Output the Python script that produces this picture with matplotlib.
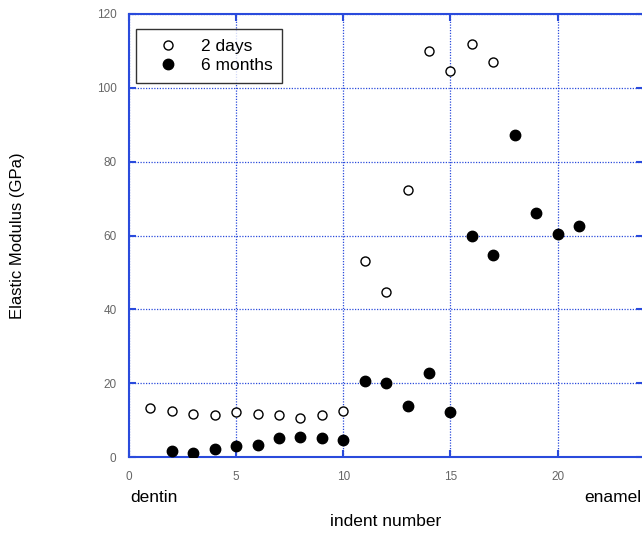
import matplotlib
matplotlib.use("Agg")
import matplotlib.pyplot as plt

plt.rcParams['font.family'] = ['Liberation Sans', 'DejaVu Sans']

x_2days = [1, 2, 3, 4, 5, 6, 7, 8, 9, 10, 11, 12, 13, 14, 15, 16, 17]
y_2days = [13.3, 12.5, 11.7, 11.5, 12.1, 11.7, 11.5, 10.6, 11.5, 12.5,
           53.1, 44.7, 72.4, 110.0, 104.5, 112.0, 106.9]
x_6months = [2, 3, 4, 5, 6, 7, 8, 9, 10, 11, 12, 13, 14, 15, 16, 17, 18, 19, 20, 21]
y_6months = [1.5, 1.2, 2.3, 3.1, 3.2, 5.1, 5.4, 5.1, 4.6, 20.6, 20.0, 13.7,
             22.8, 12.1, 59.9, 54.7, 87.3, 66.2, 60.3, 62.6]
x_ticks = [0, 5, 10, 15, 20]
y_ticks = [0, 20, 40, 60, 80, 100, 120]

blue = '#2a4bdc'

fig = plt.figure(figsize=(6.42, 5.33), dpi=100)
ax = fig.add_axes([129/642, 1-457/533, 1-129/642 + 0.002, (457-14)/533])

ax.plot(x_2days, y_2days, linestyle='none', marker='o', markersize=6.5,
        markerfacecolor='white', markeredgecolor='black', markeredgewidth=1.0,
        label='2 days', zorder=3)
ax.plot(x_6months, y_6months, linestyle='none', marker='o', markersize=7.5,
        markerfacecolor='black', markeredgecolor='black',
        label='6 months', zorder=3)

ax.set_xlim(0, 24)
ax.set_ylim(0, 120)
ax.set_xticks(x_ticks)
ax.set_yticks(y_ticks)
ax.grid(True, color=blue, linestyle=(0, (1, 1.2)), linewidth=0.9)
for s in ax.spines.values():
    s.set_color(blue)
    s.set_linewidth(1.5)
ax.tick_params(direction='in', length=5, width=1.5, color=blue,
               top=True, right=True, labelsize=8.5, labelcolor='#666666', pad=10)
ax.tick_params(axis='y', pad=9)

ax.set_ylabel('Elastic Modulus (GPa)', fontsize=12)
ax.yaxis.set_label_coords((25-129)/513, 0.5)
fig.text(386/642, 1-522/533, 'indent number', fontsize=12.5, ha='center', va='center')
fig.text(130/642, 1-497/533, 'dentin', fontsize=12.5, ha='left', va='center')
fig.text(641/642, 1-497/533, 'enamel', fontsize=12.5, ha='right', va='center')

leg = ax.legend(loc='upper left', bbox_to_anchor=((136-129)/513, (457-29)/443),
                fontsize=12.5, frameon=True, fancybox=False, borderpad=0.55,
                handletextpad=0.6, labelspacing=0.25, borderaxespad=0,
                handlelength=2.6)
leg.get_frame().set_edgecolor('black')
leg.get_frame().set_linewidth(1.0)

fig.savefig('out.png', dpi=100)
